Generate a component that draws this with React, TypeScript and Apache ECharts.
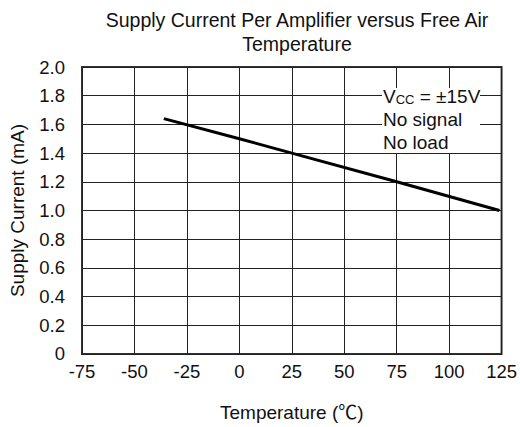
import React, { useEffect, useRef } from "react";
import * as echarts from "echarts";

const temperatures = [-36, 0, 25, 75, 124];
const supplyCurrent = [1.64, 1.5, 1.4, 1.2, 1.0];
const xTicks = [-75, -50, -25, 0, 25, 50, 75, 100, 125];
const yTicks = [0, 0.2, 0.4, 0.6, 0.8, 1.0, 1.2, 1.4, 1.6, 1.8, 2.0];
const titleText = "Supply Current Per Amplifier versus Free Air\nTemperature";
const noteLines = ["No signal", "No load"];

const FONT = "Liberation Sans, Arial, sans-serif";
const NAME_FONT = "Liberation Sans, Noto Sans CJK SC, sans-serif";

export default function App() {
  const ref = useRef<HTMLDivElement>(null);
  useEffect(() => {
    document.body.style.margin = "0";
    if (!ref.current) return;
    const chart = echarts.init(ref.current, undefined, { renderer: "svg" });
    chart.setOption({
      animation: false,
      backgroundColor: "#fff",
      textStyle: { fontFamily: FONT },
      title: {
        text: titleText,
        left: 297,
        top: 8,
        padding: 0,
        textAlign: "center",
        textStyle: { fontFamily: FONT, fontSize: 19.5, fontWeight: "normal", color: "#111", lineHeight: 24 },
      },
      grid: {
        left: 82,
        right: 17,
        top: 67,
        bottom: 71,
        show: true,
        borderColor: "#333",
        borderWidth: 2,
        backgroundColor: "transparent",
      },
      xAxis: {
        type: "value",
        min: xTicks[0],
        max: xTicks[xTicks.length - 1],
        interval: 25,
        name: "Temperature (℃)",
        nameLocation: "middle",
        nameGap: 49,
        nameTextStyle: { fontFamily: NAME_FONT, fontSize: 19, color: "#111" },
        axisLine: { show: false },
        axisTick: { show: false },
        axisLabel: { fontFamily: FONT, fontSize: 18.5, color: "#111", margin: 8 },
        splitLine: { show: true, lineStyle: { color: "#222", width: 1 } },
      },
      yAxis: {
        type: "value",
        min: yTicks[0],
        max: yTicks[yTicks.length - 1],
        interval: 0.2,
        name: "Supply Current (mA)",
        nameLocation: "middle",
        nameGap: 55,
        nameTextStyle: { fontFamily: FONT, fontSize: 19, color: "#111" },
        axisLine: { show: false },
        axisTick: { show: false },
        axisLabel: {
          fontFamily: FONT,
          fontSize: 18.5,
          color: "#111",
          margin: 17,
          formatter: (v: number) => (v === 0 ? "0" : v.toFixed(1)),
        },
        splitLine: { show: true, lineStyle: { color: "#222", width: 1 } },
      },
      graphic: [
        {
          type: "rect",
          shape: { x: 382, y: 88, width: 98, height: 65 },
          style: { fill: "#fff" },
          z: 10,
        },
        {
          type: "text",
          x: 383,
          y: 96,
          z: 11,
          style: {
            text: "{a|V}{s|CC}{a| = ±15V}",
            verticalAlign: "middle",
            rich: {
              a: { fontFamily: FONT, fontSize: 19, fill: "#111" },
              s: { fontFamily: FONT, fontSize: 13, fill: "#111", padding: [6, 0, 0, 0] },
            },
          },
        },
        {
          type: "text",
          x: 383,
          y: 119,
          z: 11,
          style: { text: noteLines[0], font: `19px ${FONT}`, fill: "#111", verticalAlign: "middle" },
        },
        {
          type: "text",
          x: 383,
          y: 142,
          z: 11,
          style: { text: noteLines[1], font: `19px ${FONT}`, fill: "#111", verticalAlign: "middle" },
        },
      ],
      series: [
        {
          type: "line",
          data: temperatures.map((t, i) => [t, supplyCurrent[i]]),
          showSymbol: false,
          symbol: "none",
          lineStyle: { color: "#000", width: 3 },
          z: 5,
        },
      ],
    });
    return () => chart.dispose();
  }, []);
  return <div ref={ref} style={{ width: 520, height: 427 }} />;
}
